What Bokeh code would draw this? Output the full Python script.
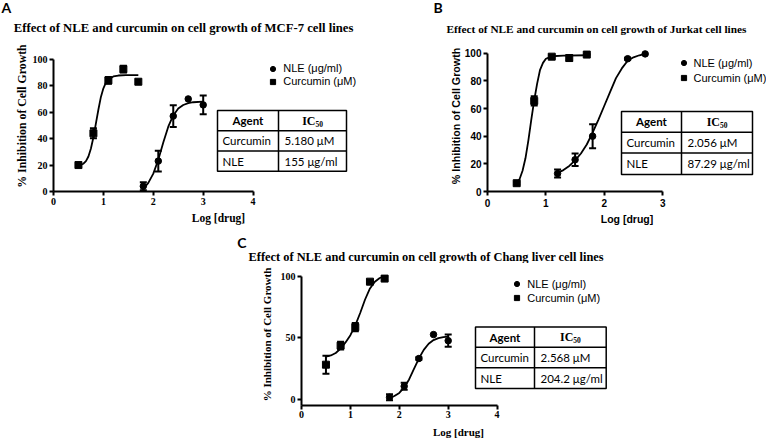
from bokeh.plotting import figure
from bokeh.models import (Range1d, Whisker, TeeHead, ColumnDataSource, Legend,
                          LegendItem, FixedTicker, Spacer)
from bokeh.layouts import row, column
from bokeh.embed import file_html
from bokeh.resources import INLINE
from bokeh.core.properties import value

# ------------------------------------------------------------------ data
panel_letters = ["A", "B", "C"]
titles = [
    "Effect of NLE and curcumin on cell growth of MCF-7 cell lines",
    "Effect of NLE and curcumin on cell growth of Jurkat cell lines",
    "Effect of NLE and curcumin on cell growth of Chang liver cell lines",
]
series_names = ["NLE (μg/ml)", "Curcumin (μM)"]
x_label = "Log [drug]"
y_label = "% Inhibition of Cell Growth"
table_header = ["Agent", "IC", "50"]
table_agents = ["Curcumin", "NLE"]
ic50_A = ["5.180 μM", "155 μg/ml"]
ic50_B = ["2.056 μM", "87.29 μg/ml"]
ic50_C = ["2.568 μM", "204.2 μg/ml"]

xticks_A = [0, 1, 2, 3, 4]
yticks_A = [0, 20, 40, 60, 80, 100]
xticks_B = [0, 1, 2, 3]
yticks_B = [0, 20, 40, 60, 80, 100]
xticks_C = [0, 1, 2, 3, 4]
yticks_C = [0, 50, 100]

# Panel A (MCF-7)
curc_x_A = [0.5, 0.8, 1.1, 1.4, 1.7]
curc_y_A = [20, 44, 84, 92.5, 83]
curc_err_A = [0, 3.8, 2.5, 2.5, 0]
nle_x_A = [1.8, 2.1, 2.4, 2.7, 3.0]
nle_y_A = [4, 23, 57, 70, 65.5]
nle_err_A = [3, 7.8, 8.3, 0, 7]
curc_fit_x_A = [0.5, 0.6, 0.65, 0.7, 0.75, 0.8, 0.85, 0.9, 0.95, 1.0, 1.05, 1.1, 1.2, 1.3, 1.45, 1.7]
curc_fit_y_A = [19.5, 21, 23, 26.5, 32.5, 41, 51.5, 62, 71.5, 78, 82.3, 84.8, 87, 87.7, 88, 88]
nle_fit_x_A = [1.8, 1.9, 2.0, 2.1, 2.2, 2.3, 2.4, 2.5, 2.6, 2.7, 2.8, 3.0]
nle_fit_y_A = [2, 6.5, 13.5, 24, 37, 49, 57.5, 62.7, 65.4, 66.8, 67.5, 68]

# Panel B (Jurkat)
curc_x_B = [0.5, 0.8, 1.1, 1.4, 1.7]
curc_y_B = [6, 65.5, 97.5, 96.5, 99]
curc_err_B = [0.8, 3.4, 1, 2, 0.5]
nle_x_B = [1.2, 1.5, 1.8, 2.4, 2.7]
nle_y_B = [13, 23, 40, 96, 99.5]
nle_err_B = [2.9, 4.5, 8.7, 0.8, 0]
curc_fit_x_B = [0.5, 0.55, 0.6, 0.65, 0.7, 0.75, 0.8, 0.85, 0.9, 0.95, 1.0, 1.1, 1.3, 1.7]
curc_fit_y_B = [6, 9, 15, 24, 37, 52, 66, 78, 88, 93, 96, 97.8, 98.3, 98.5]
nle_fit_x_B = [1.2, 1.3, 1.4, 1.5, 1.6, 1.7, 1.8, 1.9, 2.0, 2.1, 2.2, 2.3, 2.4, 2.5, 2.6, 2.7]
nle_fit_y_B = [13.5, 15.5, 18.5, 22.5, 27.5, 34, 42.5, 52, 62, 72, 82, 89, 94.5, 97, 98.5, 99.5]

# Panel C (Chang liver)
curc_x_C = [0.5, 0.8, 1.1, 1.4, 1.7]
curc_y_C = [28, 43.5, 58.5, 95.5, 98]
curc_err_C = [7.3, 3.1, 3.3, 1, 1.5]
nle_x_C = [1.8, 2.1, 2.4, 2.7, 3.0]
nle_y_C = [1.5, 10.5, 33, 52.5, 47.5]
nle_err_C = [2.5, 2.9, 1, 0, 5]
curc_fit_x_C = [0.5, 0.6, 0.7, 0.8, 0.9, 1.0, 1.1, 1.2, 1.3, 1.4, 1.5, 1.6, 1.7]
curc_fit_y_C = [34.5, 35.5, 37.5, 41, 46, 52, 60, 70, 81, 90, 95.5, 98.5, 99.8]
nle_fit_x_C = [1.8, 1.9, 2.0, 2.1, 2.2, 2.3, 2.4, 2.5, 2.6, 2.7, 2.8, 2.9, 3.0]
nle_fit_y_C = [1, 2.5, 5, 9.5, 16, 24.5, 33, 40, 45, 48, 49.6, 50.4, 50.8]

SERIF = "Liberation Serif"
SANS = "Liberation Sans"
CAL = "Lato"


def strip(W, H, top, heads):
    """Full-width heading strip (panel letters + titles) in pixel coordinates."""
    s = figure(width=W, height=H, x_range=Range1d(0, W), y_range=Range1d(H, 0),
               output_backend="svg", toolbar_location=None, title=None, min_border=0,
               x_axis_location=None, y_axis_location=None)
    s.outline_line_color = None
    s.grid.visible = False
    s.background_fill_color = "white"
    s.border_fill_color = "white"
    for letter, lxy, title, txy, tsize in heads:
        s.text(x=[lxy[0]], y=[lxy[1] - top], text=[letter],
               text_font=value(CAL), text_font_size="14px", text_font_style="bold",
               text_baseline="middle", text_align="left", text_color="black")
        s.text(x=[txy[0]], y=[txy[1] - top], text=[title],
               text_font=value(SERIF), text_font_size=tsize, text_font_style="bold",
               text_baseline="middle", text_align="left", text_color="black")
    return s


def build(P):
    fl, ft, W, H = P["fig_left"], P["fig_top"], P["W"], P["H"]
    x0, sx, y0, sy, ys, sh = P["x0"], P["sx"], P["y0"], P["sy"], P["y_start"], P["shift"]
    mbl = int(round(x0 - fl))
    fb = y0 - sh - ys * sy
    mbb = int(round(ft + H - fb))
    frame_bottom = ft + H - mbb
    x_end = (W - mbl) / sx
    y_end = ys + (frame_bottom - ft) / sy

    def dx(px):
        return (px - (fl + mbl)) / sx

    def dy(py):
        return ys + (frame_bottom - (py - sh)) / sy

    p = figure(width=W, height=H, x_range=Range1d(0, x_end), y_range=Range1d(ys, y_end),
               output_backend="svg", toolbar_location=None, title=None,
               min_border_left=mbl, min_border_bottom=mbb, min_border_top=0, min_border_right=0)
    p.outline_line_color = None
    p.grid.visible = False
    p.background_fill_color = "white"
    p.border_fill_color = "white"

    for ax, ticks, bnds in ((p.xaxis, P["xticks"], (0, P["xticks"][-1])),
                            (p.yaxis, P["yticks"], (ys, P["yticks"][-1]))):
        ax.ticker = FixedTicker(ticks=ticks)
        ax.bounds = bnds
        ax.axis_line_width = 2
        ax.axis_line_color = "black"
        ax.major_tick_line_width = 2
        ax.major_tick_line_color = "black"
        ax.major_tick_out = 4
        ax.major_tick_in = 0
        ax.minor_tick_out = 0
        ax.minor_tick_in = 0
        ax.major_label_text_font = P["tick_font"]
        ax.major_label_text_font_size = P["tick_size"]
        ax.major_label_text_font_style = "bold"
        ax.major_label_text_color = "black"
        ax.axis_label_text_font = P["tick_font"]
        ax.axis_label_text_font_style = "bold"
        ax.axis_label_text_color = "black"
    p.xaxis.axis_label = x_label
    p.yaxis.axis_label = y_label
    p.xaxis.axis_label_text_font_size = P["xlab_size"]
    p.yaxis.axis_label_text_font_size = P["ylab_size"]
    p.xaxis.major_label_standoff = P["xstand"]
    p.xaxis.axis_label_standoff = P["xlstand"]
    p.yaxis.major_label_standoff = 2
    p.yaxis.axis_label_standoff = P["ylstand"]

    # error bars
    for xs, yv, ev in ((P["cx"], P["cy"], P["ce"]), (P["nx"], P["ny"], P["ne"])):
        keep = [i for i, e in enumerate(ev) if e > 0]
        src = ColumnDataSource(dict(base=[xs[i] for i in keep],
                                    lower=[yv[i] - ev[i] for i in keep],
                                    upper=[yv[i] + ev[i] for i in keep]))
        p.add_layout(Whisker(source=src, base="base", lower="lower", upper="upper",
                             dimension="height", line_width=2, line_color="black",
                             upper_head=TeeHead(size=7, line_width=2, line_color="black"),
                             lower_head=TeeHead(size=7, line_width=2, line_color="black")))

    # fitted curves
    p.line(P["cfx"], P["cfy"], line_width=1.8, line_color="black")
    p.line(P["nfx"], P["nfy"], line_width=1.8, line_color="black")

    r_n = p.scatter(P["nx"], P["ny"], marker="circle", size=6.5, color="black")
    r_c = p.scatter(P["cx"], P["cy"], marker="square", size=7, color="black")

    # legend
    lg = P["legend"]
    leg = Legend(items=[LegendItem(label=series_names[0], renderers=[r_n]),
                        LegendItem(label=series_names[1], renderers=[r_c])],
                 location=(lg[0] - 6.5 - (fl + mbl), frame_bottom - (lg[2] - sh + 6.5)),
                 orientation="vertical", padding=0, margin=0, spacing=lg[3],
                 glyph_width=13, glyph_height=13, label_height=13, label_standoff=4,
                 label_text_font=SANS, label_text_font_size="11px", label_text_color="black",
                 border_line_color=None, background_fill_alpha=0)
    p.add_layout(leg)

    # IC50 table
    L, S, R, T, R1, R2, B = P["table"]
    p.quad(left=[dx(L)], right=[dx(R)], top=[dy(T)], bottom=[dy(B)],
           fill_color=None, line_color="black", line_width=1.5)
    p.segment(x0=[dx(S), dx(L), dx(L)], y0=[dy(T), dy(R1), dy(R2)],
              x1=[dx(S), dx(R), dx(R)], y1=[dy(B), dy(R1), dy(R2)],
              line_color="black", line_width=1.5)
    yh, y1, y2 = (T + R1) / 2, (R1 + R2) / 2, (R2 + B) / 2
    p.text(x=[dx((L + S) / 2)], y=[dy(yh)], text=[table_header[0]],
           text_font=value(CAL), text_font_size="11.5px", text_font_style="bold",
           text_align="center", text_baseline="middle", text_color="black")
    cx2 = (S + R) / 2 + 3
    p.text(x=[dx(cx2)], y=[dy(yh)], text=[table_header[1]],
           text_font=value(SERIF), text_font_size="12px", text_font_style="bold",
           text_align="right", text_baseline="middle", text_color="black")
    p.text(x=[dx(cx2)], y=[dy(yh + 3)], text=[table_header[2]],
           text_font=value(SERIF), text_font_size="7.5px", text_font_style="bold",
           text_align="left", text_baseline="middle", text_color="black")
    p.text(x=[dx(L + 5), dx(L + 5)], y=[dy(y1), dy(y2)], text=table_agents,
           text_font=value(CAL), text_font_size="11.5px",
           text_align="left", text_baseline="middle", text_color="black")
    p.text(x=[dx(S + 6), dx(S + 6)], y=[dy(y1), dy(y2)], text=P["ic50"],
           text_font=value(CAL), text_font_size="11.5px",
           text_align="left", text_baseline="middle", text_color="black")
    return p


PA = dict(fig_left=0, fig_top=40, W=383, H=188, x0=53, sx=49.9, y0=193, sy=1.34, y_start=0, shift=0,
          xticks=xticks_A, yticks=yticks_A, tick_font=SERIF, tick_size="10px",
          xlab_size="11.5px", ylab_size="11.8px", xstand=2, xlstand=4, ylstand=1,
          cx=curc_x_A, cy=curc_y_A, ce=curc_err_A, nx=nle_x_A, ny=nle_y_A, ne=nle_err_A,
          cfx=curc_fit_x_A, cfy=curc_fit_y_A, nfx=nle_fit_x_A, nfy=nle_fit_y_A,
          legend=(272.7, 70, 83.3, 0),
          table=(217, 278, 346, 111, 131.5, 152, 172.5), ic50=ic50_A)

PB = dict(fig_left=383, fig_top=40, W=383, H=188, x0=487, sx=58.4, y0=191, sy=1.383, y_start=0, shift=0,
          xticks=xticks_B, yticks=yticks_B, tick_font=SANS, tick_size="10px",
          xlab_size="10.5px", ylab_size="10.7px", xstand=3, xlstand=3, ylstand=0,
          cx=curc_x_B, cy=curc_y_B, ce=curc_err_B, nx=nle_x_B, ny=nle_y_B, ne=nle_err_B,
          cfx=curc_fit_x_B, cfy=curc_fit_y_B, nfx=nle_fit_x_B, nfy=nle_fit_y_B,
          legend=(683, 62.7, 77.7, 2),
          table=(621, 681, 752, 111, 131.7, 152.5, 174), ic50=ic50_B)

PC = dict(fig_left=190, fig_top=263, W=425, H=177, x0=301, sx=48.9, y0=402.5, sy=1.247, y_start=-5.2, shift=2,
          xticks=xticks_C, yticks=yticks_C, tick_font=SERIF, tick_size="10px",
          xlab_size="11px", ylab_size="11px", xstand=1, xlstand=5, ylstand=5,
          cx=curc_x_C, cy=curc_y_C, ce=curc_err_C, nx=nle_x_C, ny=nle_y_C, ne=nle_err_C,
          cfx=curc_fit_x_C, cfy=curc_fit_y_C, nfx=nle_fit_x_C, nfy=nle_fit_y_C,
          legend=(516.7, 287.7, 301.7, 1),
          table=(475, 534, 605.7, 329.3, 350, 370.7, 391.7), ic50=ic50_C)

sTop = strip(766, 40, 0, [
    (panel_letters[0], (1, 7), titles[0], (13.3, 27), "12.7px"),
    (panel_letters[1], (433, 7), titles[1], (446, 28.5), "11.3px"),
])
sMid = strip(766, 35, 228, [
    (panel_letters[2], (236.7, 242), titles[2], (248, 256), "12.4px"),
])

pA = build(PA)
pB = build(PB)
pC = build(PC)

layout = column(
    sTop,
    row(pA, pB),
    sMid,
    row(Spacer(width=190, height=177), pC),
)

open("out.html", "w").write(file_html(layout, INLINE))
